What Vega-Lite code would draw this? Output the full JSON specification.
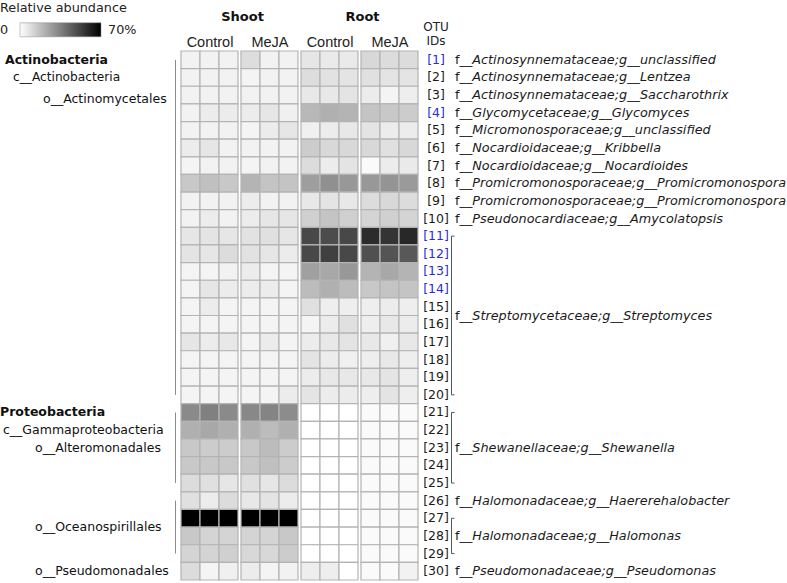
{
  "$schema": "https://vega.github.io/schema/vega-lite/v6.json",
  "padding": {"left": 0, "top": 2, "right": 0, "bottom": 0},
  "background": "white",
  "bounds": "flush",
  "spacing": 3,
  "config": {"view": {"stroke": null}, "font": "DejaVu Sans"},
  "datasets": {
    "heat": [
      {"id":1,"SC1":3.6,"SC2":3.6,"SC3":3.6,"SM1":9.3,"SM2":3.6,"SM3":3.6,"RC1":6.9,"RC2":5.8,"RC3":5.8,"RM1":10.7,"RM2":9.6,"RM3":9.6},
      {"id":2,"SC1":3.6,"SC2":3.6,"SC3":3.6,"SM1":3.0,"SM2":3.6,"SM3":3.6,"RC1":9.3,"RC2":8.0,"RC3":7.4,"RM1":8.5,"RM2":7.4,"RM3":7.4},
      {"id":3,"SC1":3.6,"SC2":3.6,"SC3":3.6,"SM1":3.6,"SM2":3.6,"SM3":3.6,"RC1":6.3,"RC2":6.3,"RC3":7.4,"RM1":5.2,"RM2":3.0,"RM3":4.7},
      {"id":4,"SC1":3.6,"SC2":5.2,"SC3":5.2,"SM1":5.2,"SM2":6.9,"SM3":4.1,"RC1":19.5,"RC2":21.7,"RC3":20.6,"RM1":16.2,"RM2":15.1,"RM3":14.0},
      {"id":5,"SC1":3.6,"SC2":3.6,"SC3":3.6,"SM1":3.0,"SM2":5.2,"SM3":6.9,"RC1":4.1,"RC2":5.2,"RC3":6.3,"RM1":7.4,"RM2":5.2,"RM3":5.2},
      {"id":6,"SC1":5.2,"SC2":6.9,"SC3":3.6,"SM1":3.6,"SM2":3.6,"SM3":3.6,"RC1":14.0,"RC2":10.7,"RC3":10.7,"RM1":10.7,"RM2":8.5,"RM3":10.7},
      {"id":7,"SC1":3.0,"SC2":3.6,"SC3":3.6,"SM1":3.0,"SM2":3.6,"SM3":3.6,"RC1":9.6,"RC2":5.2,"RC3":7.4,"RM1":1.4,"RM2":5.2,"RM3":5.8},
      {"id":8,"SC1":15.1,"SC2":17.3,"SC3":15.1,"SM1":20.6,"SM2":16.2,"SM3":16.2,"RC1":26.6,"RC2":30.5,"RC3":28.3,"RM1":28.3,"RM2":29.4,"RM3":27.7},
      {"id":9,"SC1":3.6,"SC2":3.6,"SC3":3.6,"SM1":5.2,"SM2":3.6,"SM3":3.6,"RC1":6.3,"RC2":7.4,"RC3":6.3,"RM1":9.6,"RM2":10.7,"RM3":9.6},
      {"id":10,"SC1":3.6,"SC2":5.2,"SC3":3.6,"SM1":5.2,"SM2":6.9,"SM3":6.9,"RC1":12.9,"RC2":16.2,"RC3":12.9,"RM1":11.8,"RM2":12.9,"RM3":11.8},
      {"id":11,"SC1":6.9,"SC2":7.4,"SC3":6.9,"SM1":8.0,"SM2":8.5,"SM3":6.9,"RC1":50.2,"RC2":49.1,"RC3":50.2,"RM1":57.9,"RM2":55.7,"RM3":59.0},
      {"id":12,"SC1":7.4,"SC2":6.9,"SC3":9.6,"SM1":8.0,"SM2":6.9,"SM3":5.2,"RC1":50.2,"RC2":52.4,"RC3":50.2,"RM1":48.0,"RM2":46.9,"RM3":45.8},
      {"id":13,"SC1":3.0,"SC2":3.0,"SC3":3.6,"SM1":5.2,"SM2":3.0,"SM3":3.0,"RC1":26.1,"RC2":23.9,"RC3":28.3,"RM1":20.6,"RM2":23.9,"RM3":20.6},
      {"id":14,"SC1":3.0,"SC2":6.9,"SC3":5.2,"SM1":5.2,"SM2":5.2,"SM3":3.0,"RC1":18.4,"RC2":21.7,"RC3":18.4,"RM1":15.1,"RM2":16.2,"RM3":16.2},
      {"id":15,"SC1":3.0,"SC2":5.2,"SC3":3.0,"SM1":3.0,"SM2":3.0,"SM3":3.0,"RC1":8.5,"RC2":4.7,"RC3":4.7,"RM1":4.7,"RM2":5.2,"RM3":4.7},
      {"id":16,"SC1":3.0,"SC2":3.0,"SC3":3.0,"SM1":3.0,"SM2":3.0,"SM3":3.0,"RC1":3.0,"RC2":5.2,"RC3":8.5,"RM1":4.7,"RM2":6.3,"RM3":5.2},
      {"id":17,"SC1":6.9,"SC2":5.2,"SC3":6.3,"SM1":3.0,"SM2":5.2,"SM3":3.0,"RC1":5.2,"RC2":6.3,"RC3":7.4,"RM1":6.3,"RM2":4.1,"RM3":6.3},
      {"id":18,"SC1":3.0,"SC2":3.0,"SC3":3.0,"SM1":3.0,"SM2":3.0,"SM3":3.0,"RC1":7.4,"RC2":5.2,"RC3":4.1,"RM1":4.7,"RM2":6.3,"RM3":4.7},
      {"id":19,"SC1":3.0,"SC2":3.0,"SC3":3.0,"SM1":3.0,"SM2":3.0,"SM3":3.0,"RC1":5.2,"RC2":6.3,"RC3":6.3,"RM1":6.3,"RM2":7.4,"RM3":4.7},
      {"id":20,"SC1":3.0,"SC2":3.0,"SC3":3.0,"SM1":3.0,"SM2":3.0,"SM3":5.2,"RC1":7.4,"RC2":5.2,"RC3":5.2,"RM1":4.7,"RM2":7.4,"RM3":4.7},
      {"id":21,"SC1":32.1,"SC2":34.9,"SC3":32.1,"SM1":32.7,"SM2":33.8,"SM3":31.6,"RC1":0,"RC2":0,"RC3":0,"RM1":1.4,"RM2":1.4,"RM3":1.4},
      {"id":22,"SC1":21.7,"SC2":23.9,"SC3":21.7,"SM1":21.7,"SM2":18.4,"SM3":21.7,"RC1":0,"RC2":0,"RC3":0,"RM1":1.4,"RM2":1.4,"RM3":1.4},
      {"id":23,"SC1":15.1,"SC2":14.0,"SC3":14.0,"SM1":15.1,"SM2":18.4,"SM3":14.0,"RC1":0,"RC2":0,"RC3":0,"RM1":1.4,"RM2":1.4,"RM3":1.4},
      {"id":24,"SC1":15.1,"SC2":15.1,"SC3":15.1,"SM1":15.1,"SM2":17.3,"SM3":14.0,"RC1":0,"RC2":0,"RC3":0,"RM1":1.4,"RM2":1.4,"RM3":1.4},
      {"id":25,"SC1":9.6,"SC2":8.5,"SC3":6.9,"SM1":8.5,"SM2":6.9,"SM3":9.6,"RC1":0,"RC2":0,"RC3":0,"RM1":1.4,"RM2":1.4,"RM3":1.4},
      {"id":26,"SC1":8.5,"SC2":5.2,"SC3":9.6,"SM1":6.3,"SM2":7.4,"SM3":5.2,"RC1":0,"RC2":0,"RC3":0,"RM1":1.4,"RM2":1.4,"RM3":1.4},
      {"id":27,"SC1":70,"SC2":70,"SC3":70,"SM1":70,"SM2":70,"SM3":70,"RC1":0,"RC2":0,"RC3":0,"RM1":1.4,"RM2":1.4,"RM3":1.4},
      {"id":28,"SC1":15.1,"SC2":11.8,"SC3":11.8,"SM1":11.8,"SM2":11.8,"SM3":15.1,"RC1":0,"RC2":0,"RC3":0,"RM1":1.4,"RM2":1.4,"RM3":1.4},
      {"id":29,"SC1":11.8,"SC2":11.8,"SC3":12.9,"SM1":10.7,"SM2":10.7,"SM3":14.0,"RC1":0,"RC2":0,"RC3":0,"RM1":1.4,"RM2":1.4,"RM3":1.4},
      {"id":30,"SC1":9.6,"SC2":3.0,"SC3":4.1,"SM1":5.2,"SM2":3.0,"SM3":3.6,"RC1":4.7,"RC2":4.7,"RC3":0,"RM1":1.4,"RM2":1.4,"RM3":3.6}
    ],
    "otus": [
      {"id":1,"tag":"[1]"},{"id":2,"tag":"[2]"},{"id":3,"tag":"[3]"},{"id":4,"tag":"[4]"},{"id":5,"tag":"[5]"},
      {"id":6,"tag":"[6]"},{"id":7,"tag":"[7]"},{"id":8,"tag":"[8]"},{"id":9,"tag":"[9]"},{"id":10,"tag":"[10]"},
      {"id":11,"tag":"[11]"},{"id":12,"tag":"[12]"},{"id":13,"tag":"[13]"},{"id":14,"tag":"[14]"},{"id":15,"tag":"[15]"},
      {"id":16,"tag":"[16]"},{"id":17,"tag":"[17]"},{"id":18,"tag":"[18]"},{"id":19,"tag":"[19]"},{"id":20,"tag":"[20]"},
      {"id":21,"tag":"[21]"},{"id":22,"tag":"[22]"},{"id":23,"tag":"[23]"},{"id":24,"tag":"[24]"},{"id":25,"tag":"[25]"},
      {"id":26,"tag":"[26]"},{"id":27,"tag":"[27]"},{"id":28,"tag":"[28]"},{"id":29,"tag":"[29]"},{"id":30,"tag":"[30]"}
    ],
    "names": [
      {"id":1,"rest":"Actinosynnemataceae;g__unclassified"},
      {"id":2,"rest":"Actinosynnemataceae;g__Lentzea"},
      {"id":3,"rest":"Actinosynnemataceae;g__Saccharothrix"},
      {"id":4,"rest":"Glycomycetaceae;g__Glycomyces"},
      {"id":5,"rest":"Micromonosporaceae;g__unclassified"},
      {"id":6,"rest":"Nocardioidaceae;g__Kribbella"},
      {"id":7,"rest":"Nocardioidaceae;g__Nocardioides"},
      {"id":8,"rest":"Promicromonosporaceae;g__Promicromonospora"},
      {"id":9,"rest":"Promicromonosporaceae;g__Promicromonospora"},
      {"id":10,"rest":"Pseudonocardiaceae;g__Amycolatopsis"},
      {"id":15,"rest":"Streptomycetaceae;g__Streptomyces"},
      {"id":23,"rest":"Shewanellaceae;g__Shewanella"},
      {"id":26,"rest":"Halomonadaceae;g__Haererehalobacter"},
      {"id":28,"rest":"Halomonadaceae;g__Halomonas"},
      {"id":30,"rest":"Pseudomonadaceae;g__Pseudomonas"}
    ],
    "brackets": [{"a":11,"b":20},{"a":21,"b":25},{"a":27,"b":29}],
    "clades": [{"a":1,"b":20},{"a":21,"b":25},{"a":26,"b":29}],
    "taxa": [
      {"id":1,"lv":"p","t":"Actinobacteria"},
      {"id":2,"lv":"c","t":"c__Actinobacteria"},
      {"id":3,"lv":"o","t":"o__Actinomycetales"},
      {"id":21,"lv":"p","t":"Proteobacteria"},
      {"id":22,"lv":"c","t":"c__Gammaproteobacteria"},
      {"id":23,"lv":"o","t":"o__Alteromonadales"},
      {"id":27,"lv":"o","t":"o__Oceanospirillales"},
      {"id":30,"lv":"o","t":"o__Pseudomonadales"}
    ]
  },
  "hconcat": [
    {
      "width": 178, "height": 529,
      "layer": [
        {"data": {"name": "clades"}, "mark": {"type": "rule", "color": "#8c8c8c", "strokeWidth": 1, "xOffset": -2.5},
         "encoding": {"x": {"datum": 1, "type": "quantitative", "scale": {"domain": [0, 1], "nice": false, "zero": false}, "axis": null},
                      "y": {"field": "a", "type": "ordinal", "scale": {"domain": [1,2,3,4,5,6,7,8,9,10,11,12,13,14,15,16,17,18,19,20,21,22,23,24,25,26,27,28,29,30], "paddingInner": 0, "paddingOuter": 0}, "axis": null},
                      "y2": {"field": "b"}}},
        {"data": {"name": "taxa"}, "transform": [{"filter": "datum.id <= 20 && datum.lv == 'p'"}],
         "mark": {"type": "text", "align": "left", "baseline": "middle", "fontSize": 12.5, "fontWeight": "bold", "dx": 5, "color": "#111"},
         "encoding": {"x": {"datum": 0, "type": "quantitative"}, "y": {"field": "id", "type": "ordinal"}, "text": {"field": "t"}}},
        {"data": {"name": "taxa"}, "transform": [{"filter": "datum.id <= 20 && datum.lv == 'c'"}],
         "mark": {"type": "text", "align": "left", "baseline": "middle", "fontSize": 12.2, "dx": 13, "color": "#111"},
         "encoding": {"x": {"datum": 0, "type": "quantitative"}, "y": {"field": "id", "type": "ordinal"}, "text": {"field": "t"}}},
        {"data": {"name": "taxa"}, "transform": [{"filter": "datum.id <= 20 && datum.lv == 'o'"}],
         "mark": {"type": "text", "align": "left", "baseline": "middle", "fontSize": 12.5, "dx": 43, "color": "#111"},
         "encoding": {"x": {"datum": 0, "type": "quantitative"}, "y": {"field": "id", "type": "ordinal", "bandPosition": 0.75}, "text": {"field": "t"}}},
        {"data": {"name": "taxa"}, "transform": [{"filter": "datum.id > 20 && datum.lv == 'p'"}],
         "mark": {"type": "text", "align": "left", "baseline": "middle", "fontSize": 12.5, "fontWeight": "bold", "dx": 0, "color": "#111"},
         "encoding": {"x": {"datum": 0, "type": "quantitative"}, "y": {"field": "id", "type": "ordinal"}, "text": {"field": "t"}}},
        {"data": {"name": "taxa"}, "transform": [{"filter": "datum.id > 20 && datum.lv == 'c'"}],
         "mark": {"type": "text", "align": "left", "baseline": "middle", "fontSize": 12.5, "dx": 3, "color": "#111"},
         "encoding": {"x": {"datum": 0, "type": "quantitative"}, "y": {"field": "id", "type": "ordinal"}, "text": {"field": "t"}}},
        {"data": {"name": "taxa"}, "transform": [{"filter": "datum.id > 20 && datum.lv == 'o' && datum.id != 27"}],
         "mark": {"type": "text", "align": "left", "baseline": "middle", "fontSize": 12.5, "dx": 35, "color": "#111"},
         "encoding": {"x": {"datum": 0, "type": "quantitative"}, "y": {"field": "id", "type": "ordinal"}, "text": {"field": "t"}}},
        {"data": {"name": "taxa"}, "transform": [{"filter": "datum.id == 27"}],
         "mark": {"type": "text", "align": "left", "baseline": "middle", "fontSize": 12.5, "dx": 35, "color": "#111"},
         "encoding": {"x": {"datum": 0, "type": "quantitative"}, "y": {"field": "id", "type": "ordinal", "bandPosition": 1}, "text": {"field": "t"}}}
      ]
    },
    {
      "width": 57, "height": 529,
      "title": {"text": "Shoot", "anchor": "end", "align": "center", "dx": 4.5, "fontSize": 13, "fontWeight": "bold", "font": "DejaVu Sans", "color": "#111", "offset": 10, "frame": "group"},
      "data": {"name": "heat"},
      "transform": [{"fold": ["SC1", "SC2", "SC3"], "as": ["rep", "v"]}],
      "mark": {"type": "rect", "stroke": "#b4b4b4", "strokeWidth": 1.2},
      "encoding": {
        "x": {"field": "rep", "type": "nominal", "sort": ["SC1", "SC2", "SC3"], "scale": {"paddingInner": 0, "paddingOuter": 0},
              "axis": {"orient": "top", "title": "Control", "labels": false, "ticks": false, "domain": false, "titlePadding": 2, "titleFont": "Liberation Sans", "titleFontSize": 14.5, "titleFontWeight": "normal", "titleColor": "#222"}},
        "y": {"field": "id", "type": "ordinal", "scale": {"domain": [1,2,3,4,5,6,7,8,9,10,11,12,13,14,15,16,17,18,19,20,21,22,23,24,25,26,27,28,29,30], "paddingInner": 0, "paddingOuter": 0}, "axis": null},
        "color": {"field": "v", "type": "quantitative", "title": "Relative abundance",
                  "scale": {"domain": [0, 70], "range": ["#ffffff", "#000000"], "interpolate": "rgb"},
                  "legend": {
                    "title": "Relative abundance", "orient": "none", "legendX": 0, "legendY": -49, "direction": "horizontal",
                    "gradientLength": 81, "gradientThickness": 14, "gradientStrokeColor": "#888", "gradientStrokeWidth": 0.5,
                    "values": [0, 70], "labelExpr": "datum.value >= 70 ? '70%' : '0'",
                    "titleFont": "DejaVu Sans", "titleFontSize": 12.8, "titleFontWeight": "normal", "titleColor": "#222", "titlePadding": 8,
                    "labelFont": "DejaVu Sans", "labelFontSize": 12.8, "labelColor": "#222",
                    "encode": {
                      "gradient": {"update": {"x": {"value": 20}}},
                      "labels": {"update": {"x": {"signal": "datum.value >= 70 ? 108 : 0"}, "align": {"value": "left"}, "y": {"value": 7}, "baseline": {"value": "middle"}}}
                    }
                  }}
      }
    },
    {
      "width": 57, "height": 529,
      "data": {"name": "heat"},
      "transform": [{"fold": ["SM1", "SM2", "SM3"], "as": ["rep", "v"]}],
      "mark": {"type": "rect", "stroke": "#b4b4b4", "strokeWidth": 1.2},
      "encoding": {
        "x": {"field": "rep", "type": "nominal", "sort": ["SM1", "SM2", "SM3"], "scale": {"paddingInner": 0, "paddingOuter": 0},
              "axis": {"orient": "top", "title": "MeJA", "labels": false, "ticks": false, "domain": false, "titlePadding": 2, "titleFont": "Liberation Sans", "titleFontSize": 14.5, "titleFontWeight": "normal", "titleColor": "#222"}},
        "y": {"field": "id", "type": "ordinal", "scale": {"domain": [1,2,3,4,5,6,7,8,9,10,11,12,13,14,15,16,17,18,19,20,21,22,23,24,25,26,27,28,29,30], "paddingInner": 0, "paddingOuter": 0}, "axis": null},
        "color": {"field": "v", "type": "quantitative", "title": "Relative abundance", "scale": {"domain": [0, 70], "range": ["#ffffff", "#000000"], "interpolate": "rgb"}}
      }
    },
    {
      "width": 57, "height": 529,
      "title": {"text": "Root", "anchor": "end", "align": "center", "dx": 4.5, "fontSize": 13, "fontWeight": "bold", "font": "DejaVu Sans", "color": "#111", "offset": 10, "frame": "group"},
      "data": {"name": "heat"},
      "transform": [{"fold": ["RC1", "RC2", "RC3"], "as": ["rep", "v"]}],
      "mark": {"type": "rect", "stroke": "#b4b4b4", "strokeWidth": 1.2},
      "encoding": {
        "x": {"field": "rep", "type": "nominal", "sort": ["RC1", "RC2", "RC3"], "scale": {"paddingInner": 0, "paddingOuter": 0},
              "axis": {"orient": "top", "title": "Control", "labels": false, "ticks": false, "domain": false, "titlePadding": 2, "titleFont": "Liberation Sans", "titleFontSize": 14.5, "titleFontWeight": "normal", "titleColor": "#222"}},
        "y": {"field": "id", "type": "ordinal", "scale": {"domain": [1,2,3,4,5,6,7,8,9,10,11,12,13,14,15,16,17,18,19,20,21,22,23,24,25,26,27,28,29,30], "paddingInner": 0, "paddingOuter": 0}, "axis": null},
        "color": {"field": "v", "type": "quantitative", "title": "Relative abundance", "scale": {"domain": [0, 70], "range": ["#ffffff", "#000000"], "interpolate": "rgb"}}
      }
    },
    {
      "width": 57, "height": 529,
      "data": {"name": "heat"},
      "transform": [{"fold": ["RM1", "RM2", "RM3"], "as": ["rep", "v"]}],
      "mark": {"type": "rect", "stroke": "#b4b4b4", "strokeWidth": 1.2},
      "encoding": {
        "x": {"field": "rep", "type": "nominal", "sort": ["RM1", "RM2", "RM3"], "scale": {"paddingInner": 0, "paddingOuter": 0},
              "axis": {"orient": "top", "title": "MeJA", "labels": false, "ticks": false, "domain": false, "titlePadding": 2, "titleFont": "Liberation Sans", "titleFontSize": 14.5, "titleFontWeight": "normal", "titleColor": "#222"}},
        "y": {"field": "id", "type": "ordinal", "scale": {"domain": [1,2,3,4,5,6,7,8,9,10,11,12,13,14,15,16,17,18,19,20,21,22,23,24,25,26,27,28,29,30], "paddingInner": 0, "paddingOuter": 0}, "axis": null},
        "color": {"field": "v", "type": "quantitative", "title": "Relative abundance", "scale": {"domain": [0, 70], "range": ["#ffffff", "#000000"], "interpolate": "rgb"}}
      }
    },
    {
      "width": 366, "height": 529,
      "title": {"text": ["OTU", "IDs"], "anchor": "start", "align": "center", "dx": 15, "fontSize": 12, "fontWeight": "normal", "font": "DejaVu Sans", "color": "#222", "offset": 3, "lineHeight": 14, "frame": "group"},
      "layer": [
        {"data": {"name": "otus"}, "transform": [{"filter": {"not": {"field": "id", "oneOf": [1, 4, 11, 12, 13, 14]}}}],
         "mark": {"type": "text", "align": "center", "baseline": "middle", "fontSize": 12.5, "dx": 15, "color": "#1a1a1a"},
         "encoding": {"x": {"datum": 0, "type": "quantitative", "scale": {"domain": [0, 1], "nice": false, "zero": false}, "axis": null},
                      "y": {"field": "id", "type": "ordinal", "scale": {"domain": [1,2,3,4,5,6,7,8,9,10,11,12,13,14,15,16,17,18,19,20,21,22,23,24,25,26,27,28,29,30], "paddingInner": 0, "paddingOuter": 0}, "axis": null},
                      "text": {"field": "tag"}}},
        {"data": {"name": "otus"}, "transform": [{"filter": {"field": "id", "oneOf": [1, 4, 11, 12, 13, 14]}}],
         "mark": {"type": "text", "align": "center", "baseline": "middle", "fontSize": 12.5, "dx": 15, "color": "#2a2ad6"},
         "encoding": {"x": {"datum": 0, "type": "quantitative"}, "y": {"field": "id", "type": "ordinal"}, "text": {"field": "tag"}}},
        {"data": {"name": "names"}, "transform": [{"filter": "datum.id != 15"}],
         "mark": {"type": "text", "align": "left", "baseline": "middle", "fontSize": 12.8, "dx": 34, "color": "#1a1a1a"},
         "encoding": {"x": {"datum": 0, "type": "quantitative"}, "y": {"field": "id", "type": "ordinal"}, "text": {"value": "f__"}}},
        {"data": {"name": "names"}, "transform": [{"filter": "datum.id != 15"}],
         "mark": {"type": "text", "align": "left", "baseline": "middle", "fontSize": 12.8, "fontStyle": "italic", "dx": 51.3, "color": "#1a1a1a"},
         "encoding": {"x": {"datum": 0, "type": "quantitative"}, "y": {"field": "id", "type": "ordinal"}, "text": {"field": "rest"}}},
        {"data": {"name": "names"}, "transform": [{"filter": "datum.id == 15"}],
         "mark": {"type": "text", "align": "left", "baseline": "middle", "fontSize": 12.8, "dx": 34, "color": "#1a1a1a"},
         "encoding": {"x": {"datum": 0, "type": "quantitative"}, "y": {"field": "id", "type": "ordinal", "bandPosition": 1}, "text": {"value": "f__"}}},
        {"data": {"name": "names"}, "transform": [{"filter": "datum.id == 15"}],
         "mark": {"type": "text", "align": "left", "baseline": "middle", "fontSize": 12.8, "fontStyle": "italic", "dx": 51.3, "color": "#1a1a1a"},
         "encoding": {"x": {"datum": 0, "type": "quantitative"}, "y": {"field": "id", "type": "ordinal", "bandPosition": 1}, "text": {"field": "rest"}}},
        {"data": {"name": "brackets"},
         "mark": {"type": "rule", "color": "#555", "strokeWidth": 1, "xOffset": 30.5},
         "encoding": {"x": {"datum": 0, "type": "quantitative"}, "y": {"field": "a", "type": "ordinal"}, "y2": {"field": "b"}}},
        {"data": {"name": "brackets"}, "transform": [{"fold": ["a", "b"], "as": ["end", "row"]}],
         "mark": {"type": "rule", "color": "#555", "strokeWidth": 1, "xOffset": 30.5, "x2Offset": 33.5},
         "encoding": {"x": {"datum": 0, "type": "quantitative"}, "x2": {"datum": 0}, "y": {"field": "row", "type": "ordinal"}}}
      ]
    }
  ]
}
